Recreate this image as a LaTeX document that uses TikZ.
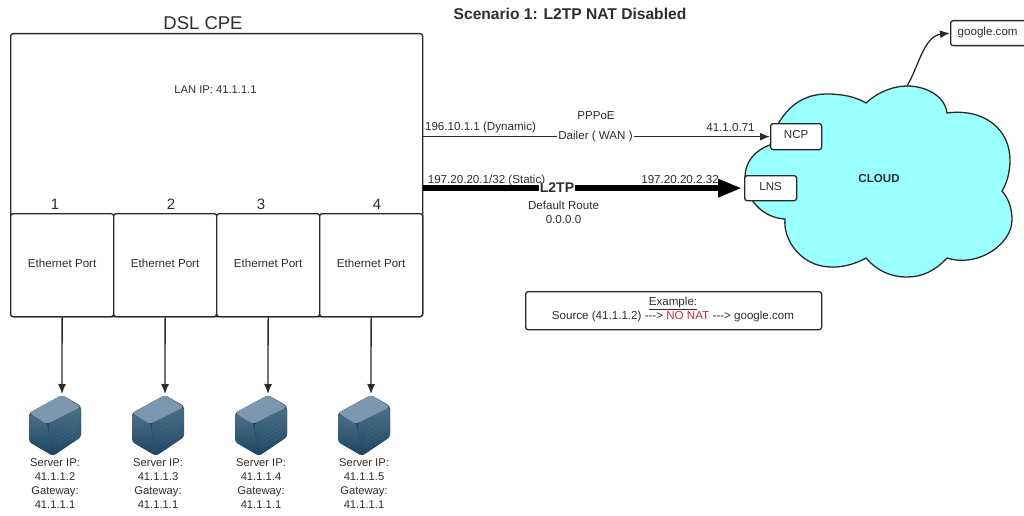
\documentclass[tikz,border=0pt]{standalone}
\usepackage{fontspec}
\setmainfont{Liberation Sans}
\usetikzlibrary{arrows.meta,calc}
\definecolor{txt}{HTML}{2E2E2E}
\definecolor{cloudc}{HTML}{99FFFF}
\definecolor{lnc}{HTML}{2A2A2A}
\definecolor{srvtop}{HTML}{7D98AE}
\definecolor{srvA}{HTML}{4A7088}
\definecolor{srvB}{HTML}{1E4563}
\definecolor{srvC}{HTML}{5A7E96}
\newcommand{\lowered}[2]{\raisebox{-#1pt}[0pt][0pt]{#2}}
\tikzset{
  x=1pt,y=-1pt,
  every node/.style={text=txt,font=\fontsize{11.6}{14}\selectfont,inner sep=0pt},
  box/.style={draw=lnc,line width=1.3pt,rounded corners=2.5pt,fill=white,anchor=north west},
  port/.style={box,minimum width=103pt,minimum height=103pt},
  conn/.style={draw=lnc,line width=1.3pt,-{Latex[length=10pt,width=8pt]}},
  lbl/.style={align=center},
  srvlbl/.style={align=center,font=\fontsize{11.2}{14}\selectfont},
  wlbl/.style={fill=white,inner xsep=1pt,inner ysep=1pt},
  numlbl/.style={font=\fontsize{15}{16}\selectfont},
}
\newcommand{\srv}[1]{%
  \begin{scope}[shift={(#1)}]
    \fill[srvB,rounded corners=3pt]
      (0,1) -- (-33,19) -- (-33,48) -- (-9,62) -- (19,43) -- (19,12) -- cycle;
    \shade[top color=srvA,bottom color=srvB,rounded corners=2pt]
      (-33,20) -- (-15,29) -- (-9,61) -- (-33,47) -- cycle;
    \shade[top color=srvA,bottom color=srvB,rounded corners=3pt]
      (-14,30) -- (19,13) -- (19,43) -- (-9,61) -- cycle;
    \fill[srvtop,rounded corners=3pt] (0,1) -- (-33,19) -- (-15,30) -- (19,13) -- cycle;
    \foreach \k in {0,...,4}{\draw[srvA!60!white,line width=.3pt,opacity=.25] (-5,{37+\k*4}) -- (16,{24+\k*4});}
  \end{scope}}
\begin{document}
\begin{tikzpicture}
\useasboundingbox (0,0) rectangle (1024,516);
\fill[white] (0,0) rectangle (1024,516);

% titles
\node[font=\fontsize{18.5}{20}\selectfont] (cpe) at (203,23) {DSL CPE};
\node[font=\bfseries\fontsize{15.6}{16}\selectfont] (title) at (570,14) {Scenario 1: L2TP NAT Disabled};

% CPE
\node[box,minimum width=412pt,minimum height=283pt] (main) at (10,33) {};
\node[font=\fontsize{11.2}{14}\selectfont] (lan) at (215.5,89.5) {LAN IP: 41.1.1.1};
\node[port] (p1) at (10,213) {\lowered{2}{Ethernet Port}};
\node[port] (p2) at (113,213) {\lowered{2}{Ethernet Port}};
\node[port] (p3) at (216,213) {\lowered{2}{Ethernet Port}};
\node[port] (p4) at (319,213) {\lowered{2}{Ethernet Port}};
\node[numlbl] (n1) at (55,204) {1};
\node[numlbl] (n2) at (171,204) {2};
\node[numlbl] (n3) at (261,204) {3};
\node[numlbl] (n4) at (377,204) {4};

% cloud
\draw[draw=lnc,line width=1.3pt,fill=cloudc]
  (866,103) .. controls (878,92) and (893,86) .. (907,86)
  .. controls (926,86) and (945,96) .. (947,113)
  .. controls (985,108) and (1010,130) .. (1010,160)
  .. controls (1010,172) and (1007,183) .. (1002,191)
  .. controls (1009,199) and (1012,209) .. (1012,220)
  .. controls (1012,244) and (978,268) .. (947,258)
  .. controls (935,271) and (922,277) .. (907,277)
  .. controls (890,277) and (876,270) .. (866,258)
  .. controls (848,268) and (832,268) .. (822,266)
  .. controls (800,262) and (783,240) .. (785,219)
  .. controls (762,218) and (745,198) .. (745,177)
  .. controls (745,162) and (755,150) .. (770,145)
  .. controls (775,125) and (790,94) .. (827,94)
  .. controls (843,94) and (856,97) .. (866,103) -- cycle;
\coordinate (ctop) at (907,86);
\node[font=\bfseries\fontsize{11.6}{14}\selectfont] (cloudl) at (879,179) {CLOUD};

\node[box,minimum width=51pt,minimum height=26pt] (ncp) at (770,123) {\lowered{2}{NCP}};
\node[box,minimum width=52pt,minimum height=25pt] (lns) at (744,175) {\lowered{2}{LNS}};
\node[box,minimum width=76pt,minimum height=25pt,text width=76pt,align=center] (google) at (950,20) {\lowered{2.5}{google.com}\hspace*{2pt}};

% WAN links
\draw[conn] (ncp.west -| main.east) -- (ncp.west);
\draw[draw=black,line width=6pt,-{Triangle[length=24pt,width=17pt]}] (lns.west -| main.east) -- ($(lns.west)+(-2,0)$);
\draw[conn] (ctop) .. controls (918,68) and (924,36) .. (google.west);

\node[wlbl] (dailer) at (595.5,136) {Dailer ( WAN )};
\node (pppoe) at (596,116) {PPPoE};
\node (ip1) at (480.5,128) {196.10.1.1 (Dynamic)};
\node (ip2) at (730.5,128) {41.1.0.71};
\node (ip3) at (486.5,180) {197.20.20.1/32 (Static)};
\node (ip4) at (680,180) {197.20.20.2.32};
\node[wlbl,font=\bfseries\fontsize{14}{16}\selectfont,inner ysep=0pt] (l2tp) at (557,188) {L2TP};
\node[lbl] (route) at (563.5,212.5) {Default Route\\0.0.0.0};

% example
\node[box,minimum width=296pt,minimum height=38pt] (ex) at (525,291) {};
\node[lbl] (extext) at (673,309) {\underline{Example:}\\Source (41.1.1.2) -{}-{}-> {\color[HTML]{B8303C}NO NAT} -{}-{}-> google.com};

% servers
\coordinate (s1) at (62,394);
\coordinate (s2) at (165,394);
\coordinate (s3) at (268,394);
\coordinate (s4) at (371,394);
\srv{s1}\srv{s2}\srv{s3}\srv{s4}
\foreach \a/\b in {p1/s1,p2/s2,p3/s3,p4/s4}{\draw[conn] (\a.south) -- (\b);}
\node[srvlbl] (t1) at (55,484) {Server IP:\\41.1.1.2\\Gateway:\\41.1.1.1};
\node[srvlbl] (t2) at (158,484) {Server IP:\\41.1.1.3\\Gateway:\\41.1.1.1};
\node[srvlbl] (t3) at (261,484) {Server IP:\\41.1.1.4\\Gateway:\\41.1.1.1};
\node[srvlbl] (t4) at (364,484) {Server IP:\\41.1.1.5\\Gateway:\\41.1.1.1};
\end{tikzpicture}
\end{document}
